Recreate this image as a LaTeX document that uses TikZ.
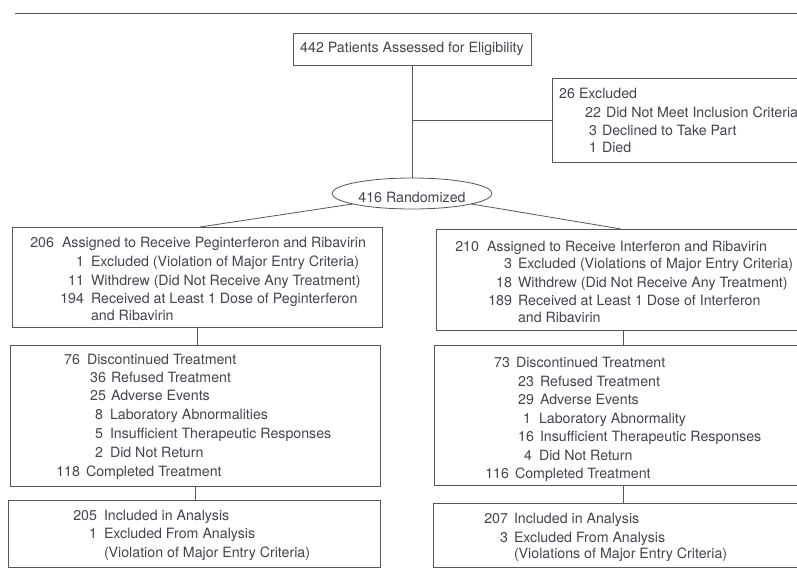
\documentclass[tikz,border=0pt]{standalone}
\usepackage{fontspec}
\setmainfont{TeX Gyre Heros}
\usetikzlibrary{shapes.geometric}
\definecolor{ink}{RGB}{72,66,78}
\definecolor{linec}{RGB}{86,86,90}
\newcommand\fs{\fontsize{14.2}{17}\selectfont}
\newcounter{lnc}
\newcommand\fl[5]{\stepcounter{lnc}%
  \node[txt,anchor=base east] (n\arabic{lnc}) at (#1,#3) {#4};%
  \node[txt,anchor=base west] (t\arabic{lnc}) at (#2,#3) {#5};}
\begin{document}
\begin{tikzpicture}[x=1pt,y=-1pt,
  txt/.style={inner sep=0pt, outer sep=0pt, text=ink, font=\fs},
  box/.style={draw=linec, line width=0.8pt, inner sep=0pt, outer sep=0pt, rectangle, text=ink, font=\fs},
  oval/.style={draw=linec, line width=0.8pt, inner sep=0pt, outer sep=0pt, ellipse},
  conn/.style={draw=linec, line width=0.8pt}]
\useasboundingbox (0,0) rectangle (797,578);
\fill[white] (0,0) rectangle (797,578);
% top rule
\draw[conn] (15,13) -- (800,13);
% boxes
\node[box, minimum width=238pt, minimum height=32pt] (top) at (412,49) {442 Patients Assessed for Eligibility};
\node[box, minimum width=278pt, minimum height=84pt] (exc) at (691,120) {};
\node[oval, minimum width=160pt, minimum height=31pt] (rand) at (412,193.5) {};
\node[txt, anchor=base] (randt) at (412,202) {416 Randomized};
\node[box, minimum width=370pt, minimum height=100pt] (L1) at (197,277) {};
\node[box, minimum width=374pt, minimum height=101pt] (R1) at (623,279.5) {};
\node[box, minimum width=370pt, minimum height=141pt] (L2) at (195,415.5) {};
\node[box, minimum width=378pt, minimum height=140pt] (R2) at (623,415) {};
\node[box, minimum width=372pt, minimum height=67pt] (L3) at (194,533.5) {};
\node[box, minimum width=378pt, minimum height=64pt] (R3) at (622,535) {};
% connectors
\draw[conn] (top.south) -- (rand.north);
\draw[conn] (exc.west) -- (exc.west -| top.south);
\coordinate (l1in) at ([xshift=3pt]L1.north);
\coordinate (r1in) at ([xshift=-2pt]R1.north);
\draw[conn] (rand.190) -- (l1in);
\draw[conn] (rand.-10) -- (r1in);
\draw[conn] (L1.south) -- (L1.south |- L2.north);
\draw[conn] (L2.south) -- (L2.south |- L3.north);
\draw[conn] (R1.south) -- (R1.south |- R2.north);
\draw[conn] (R2.south) -- (R2.south |- R3.north);
% excluded text
\fl{575}{579}{98}{26}{Excluded}
\fl{601}{606}{117}{22}{Did Not Meet Inclusion Criteria}
\fl{597}{602}{135}{3}{Declined to Take Part}
\fl{597}{602}{152}{1}{Died}
% L1
\fl{54}{62}{247}{206}{Assigned to Receive Peginterferon and Ribavirin}
\fl{84}{91}{266}{1}{Excluded (Violation of Major Entry Criteria)}
\fl{84}{91}{285}{11}{Withdrew (Did Not Receive Any Treatment)}
\fl{84}{91}{303}{194}{Received at Least 1 Dose of Peginterferon}
\fl{84}{91}{320}{}{and Ribavirin}
% R1
\fl{479}{487}{251}{210}{Assigned to Receive Interferon and Ribavirin}
\fl{512}{518}{268}{3}{Excluded (Violations of Major Entry Criteria)}
\fl{512}{518}{287}{18}{Withdrew (Did Not Receive Any Treatment)}
\fl{512}{518}{305}{189}{Received at Least 1 Dose of Interferon}
\fl{512}{518}{322}{}{and Ribavirin}
% L2
\fl{80}{87}{364}{76}{Discontinued Treatment}
\fl{106}{111}{382}{36}{Refused Treatment}
\fl{106}{111}{400}{25}{Adverse Events}
\fl{103}{110}{419}{8}{Laboratory Abnormalities}
\fl{103}{110}{438}{5}{Insufficient Therapeutic Responses}
\fl{103}{110}{457}{2}{Did Not Return}
\fl{80}{86}{476}{118}{Completed Treatment}
% R2
\fl{510}{516}{367}{73}{Discontinued Treatment}
\fl{534}{540}{386}{23}{Refused Treatment}
\fl{534}{540}{404}{29}{Adverse Events}
\fl{531}{539}{423}{1}{Laboratory Abnormality}
\fl{534}{540}{441}{16}{Insufficient Therapeutic Responses}
\fl{532}{539}{460}{4}{Did Not Return}
\fl{509}{515}{478}{116}{Completed Treatment}
% L3
\fl{97}{104}{520}{205}{Included in Analysis}
\fl{97}{104}{538}{1}{Excluded From Analysis}
\fl{97}{104}{557}{}{(Violation of Major Entry Criteria)}
% R3
\fl{508}{514}{523}{207}{Included in Analysis}
\fl{508}{514}{542}{3}{Excluded From Analysis}
\fl{508}{514}{558}{}{(Violations of Major Entry Criteria)}
\end{tikzpicture}
\end{document}
